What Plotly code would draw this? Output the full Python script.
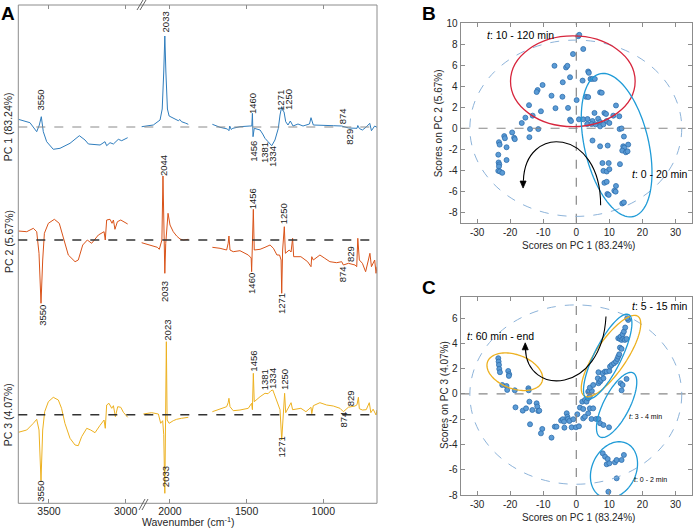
import numpy as np
import plotly.graph_objects as go

W, H = 693, 529
def px(x): return x / W
def py(y): return 1 - y / H

FONT = "Arial, 'Liberation Sans', Helvetica, sans-serif"
TXT = "#262626"
AXC = "#8c8c8c"
BLUE = "#2f7dbd"
ORANGE = "#d95319"
YELLOW = "#edb120"

# ---------------- Panel A data (loadings, arbitrary units) ----------------
pc1_left_wn = [3700, 3624, 3580, 3563, 3550, 3537, 3515, 3472, 3428, 3363, 3302, 3265, 3243, 3167, 3135, 3124, 3102, 3080, 3048, 3026, 2987]
pc1_left_val = [7.7, 4.3, -4.7, 2, 10.3, -4.7, -14.7, -22.3, -21.3, -16.3, -8.7, -13, -17, -18, -14.7, -18.7, -15.7, -17, -12.3, -13.7, -10.7]
pc1_right_wn = [2184, 2108, 2064, 2050, 2040, 2033, 2026, 2016, 2005, 1988, 1960, 1945, 1935, 1924, 1900, 1880, None,
                1723, 1673, 1625, 1615, 1610, 1600, 1590, 1543, 1478, 1466, 1462, 1458, 1450, 1412, 1395, 1380, 1360, 1336, 1315, 1293, 1282, 1271, 1262, 1256, 1245, 1230, 1215, 1197, 1165, 1132, 1090, 1080, 1065, 1022, 935, 880, 835, 780, 775, 765, 745, 720, 697, 686, 665, 650]
pc1_right_val = [0.3, 2, 7, 18, 55, 91, 55, 18, 11, 9.7, 7, 6.3, 7.5, 5.3, 4, 2.7, None,
                 2.7, -0.3, -2, -3.7, 1, -2.5, -1.3, 0.3, 1, 1, 13.7, -9.7, -1.3, -3, -7, -11.3, -14.7, -18.7, -13, -1.3, 12, 20.3, 16, 15.3, 5.3, 2, 6, 1, 3, 1, 3, 9.3, 2, 2, 1.3, 1, -1, -1.3, 1.5, -1.5, -3, 0, 3.7, -3.7, 1, -0.3]

pc2_left_wn = [3700, 3645, 3602, 3580, 3565, 3552, 3541, 3530, 3504, 3465, 3433, 3407, 3374, 3330, 3309, 3280, 3250, 3222, 3178, 3141, 3133, 3124, 3102, 3089, 3080, 3070, 3054, 3032, 3010, 2987]
pc2_left_val = [9, 8.3, 11.7, 8.3, -13.3, -63.3, -20, 6.7, 16.7, 20.7, 16.7, 3.3, -15, -21.7, -20, -5, 0, -3.3, 5, 8.3, 0, 20, 20.7, 16.7, 20, 10.7, 18.3, 20, 18.3, 16]
pc2_right_wn = [2184, 2119, 2082, 2069, 2052, 2045, 2039, 2033, 2027, 2012, 1999, 1978, 1956, 1934, 1912, 1880, None,
                1723, 1673, 1630, 1620, 1615, 1608, 1587, 1543, 1489, 1470, 1467, 1462, 1456, 1450, 1412, 1380, 1347, 1325, 1302, 1285, 1275, 1271, 1265, 1254, 1247, 1222, 1210, 1200, 1193, 1146, 1102, 1080, 1075, 1065, 1022, 990, 957, 913, 880, 869, 836, 793, 782, 775, 765, 745, 724, 706, 696, 686, 665, 656, 650]
pc2_right_val = [-2.7, -6, -7.3, -9.3, 0, 64, 10, -33.3, -3.3, 26.7, 15, 8.3, 4, 1, 0, 0.7, None,
                 -7.3, -8.3, -10, -3.3, 4, -10, -11.7, -10.7, -15, -18, -31.7, -12, 30.7, -10, -9.3, -7.3, -5, -8.3, -15, -15, -20, -53.3, -10, 13.3, -13.3, -10, -12, 1.7, -16.7, -16.7, -21.7, -26.7, -16.7, -20, -15, -18.3, -21.7, -22.7, -21.7, -25, -23.3, -25, -26.7, 1.7, -20, -23.3, -31.7, -20, -13.3, -26.7, -20, -33.3, -26.7]

pc3_left_wn = [3700, 3645, 3602, 3580, 3565, 3552, 3541, 3528, 3504, 3472, 3439, 3418, 3396, 3363, 3330, 3309, 3287, 3254, 3228, 3200, 3167, 3141, 3133, 3124, 3109, 3091, 3080, 3067, 3052, 3032, 3015, 2987]
pc3_left_val = [-17.6, -15.3, -8.6, -4.6, -15.3, -66, -15.3, 3, 13, 17.4, 14.7, 6.4, -8.6, -23.6, -30.3, -31, -22, -13.6, -15.3, -18, -10.6, -5.3, -13.6, 9.7, 11.4, 6.4, 9, -2, 8, 7.4, 2.4, -2.6]
pc3_right_wn = [2173, 2119, 2075, 2060, 2047, 2040, 2033, 2028, 2023, 2018, 2005, 1978, 1956, 1924, 1880, None,
                1723, 1673, 1630, 1620, 1615, 1608, 1587, 1543, 1489, 1467, 1462, 1456, 1450, 1412, 1380, 1360, 1341, 1329, 1315, 1293, 1282, 1271, 1262, 1252, 1245, 1222, 1210, 1200, 1146, 1113, 1080, 1075, 1065, 1022, 978, 935, 891, 869, 836, 793, 780, 771, 765, 745, 720, 700, 690, 675, 656, 650]
pc3_right_val = [0.7, 2, 0.7, -8.6, -6, -20, -78.6, -10, 73, -5.3, -8.6, -6, -4.6, -3.6, -2.6, None,
                 3, 5.4, 8, 12, 16.4, 8, 4, 4.7, 6.4, 11.4, 5, 41.4, 13, 18, 21.4, 21, 24, 24.7, 18.7, 8, 5, -25.3, 4, 21.4, 2, 9.7, 12, 5, 6.4, 3, 7.4, 1, 9, 12, 9.7, 8.7, 6.4, 3, 7.5, 8.7, 10, 17.4, 6, 4.7, 5, 12, 2, 5.5, -0.3, 4.7]

# peak labels: text, label x (wavenumber), label y (loading units)
pc1_labels = ["3550", "2033", "1460", "1456", "1381", "1334", "1271", "1250", "874", "829"]
pc1_label_x = [3555, 2027, 1458, 1451, 1386, 1334, 1276, 1223, 874, 826]
pc1_label_y = [27, 105.3, 23, -24.7, -26, -30, 27, 27, 10.3, -9.7]
pc2_labels = ["2044", "3550", "2033", "1456", "1460", "1250", "1271", "874", "829"]
pc2_label_x = [2043, 3547, 2036, 1463, 1467, 1261, 1271, 876, 826]
pc2_label_y = [74.3, -75, -51.7, 41, -43.3, 26, -63.3, -34, -14]
pc3_labels = ["2023", "3550", "2033", "1456", "1381", "1334", "1250", "1271", "874", "829"]
pc3_label_x = [2021, 3552, 2029, 1452, 1384, 1330, 1256, 1271, 874, 826]
pc3_label_y = [84.7, -77, -62, 54, 34.7, 36.4, 34.7, -32, -5.3, 16.4]

wn_ticks_left = [3500, 3000]
wn_ticks_right = [2000, 1500, 1000]

# ---------------- Panel B data (scores PC1 vs PC2) ----------------
b_pc1 = [0.6, 0.9, 2.1, -1.0, -6.6, -3.1, -2.7, 3.6, 3.8, -1.9, 1.9, 4.3, 4.9, 5.6, -4.1, -10.2, -11.7, -12.0, 7.2, 7.7,
         2.9, 3.6, -7.5, -4.2, 0.1, -14.3, 12.0, -6.3, -2.5, 5.5, 8.5, 9.0, -10.7, -13.2, -15.4, 11.2, 13.0, -1.9, -1.6, 0.8,
         2.1, 3.4, 4.9, 6.6, 7.2, 9.2, 10.0, 3.3, 4.6, 5.8, 7.2, 8.2, -16.5, -14.0, -11.5, -19.4, -21.8, -21.6, -18.8, -18.6,
         -14.2, -23.4, -23.2, -21.1, -23.6, -21.1, -23.5, -23.3, -23.4, -23.6, -23.1, -22.4, 13.1, 13.7, 14.4, 4.9, 7.2, 9.5, 14.2, 14.5,
         15.7, 13.9, 15.0, 15.5, 7.9, 9.8, 8.2, 9.2, 10.0, 13.2, 8.5, 9.2, 12.0, 11.5, 11.9, 9.4, 9.8, 13.9, 14.4]
b_pc2 = [8.77, 8.9, 7.55, 7.07, 5.95, 5.79, 5.95, 5.41, 5.28, 4.86, 4.54, 4.7, 4.7, 4.7, 4.38, 4.12, 3.64, 3.45, 3.42, 3.38,
         3.0, 2.97, 3.1, 3.0, 2.68, 2.2, 2.17, 1.91, 1.94, 1.46, 1.46, 1.36, 1.62, 1.2, 1.01, 1.2, 1.14, 0.82, 0.69, 0.85,
         0.85, 0.88, 0.69, 0.91, 0.59, 0.69, 0.5, 0.4, 0.4, 0.37, 0.18, 0.37, 0.5, -0.08, -0.08, -0.4, -0.75, -0.95, -0.91, -1.04,
         -0.85, -1.33, -1.56, -1.81, -2.52, -3.03, -3.26, -3.45, -3.64, -4.06, -4.12, -4.25, -0.08, -0.02, -0.79, -1.17, -1.72, -1.65, -1.72, -1.84,
         -1.56, -2.13, -2.29, -2.2, -3.32, -3.32, -4.06, -4.12, -3.9, -3.42, -5.2, -5.1, -5.5, -5.95, -6.04, -6.26, -6.35, -7.17, -7.07]

# ---------------- Panel C data (scores PC1 vs PC3) ----------------
c_pc1 = [-23.6, -23.5, -23.4, -23.3, -23.1, -20.6, -20.3, -20.4, -22.4, -21.1, -20.9, -18.6, -14.5, -14.4, -14.2, -18.4, -16.2, -15.2, -13.3, -12.0,
         -11.8, -11.5, -11.2, -14.0, -10.3, -10.7, -7.5, -6.5, -6.0, -4.6, -4.1, -3.7, -2.9, -2.7, -2.5, -2.1, -1.4, -3.6, -0.9, -0.1,
         0.8, 0.3, 1.1, 2.1, 1.8, 2.6, 3.1, 3.6, 4.1, 2.1, 2.6, 3.6, 4.1, 5.1, 4.6, 6.0, 6.7, 3.6, 3.9, 4.7,
         4.1, 5.1, 6.7, 7.2, 6.5, 7.5, 8.2, 6.7, 8.0, 8.7, 9.2, 10.0, 10.2, 10.7, 11.4, 12.0, 12.4, 12.7, 13.0, 13.2,
         13.7, 12.7, 13.2, 13.4, 13.7, 14.2, 14.7, 15.2, 14.0, 14.4, 14.8, 15.7, 15.4, 13.4, 14.0, 15.2, 13.7, 7.2, 8.2, 9.9,
         8.0, 8.7, 9.5, 9.2, 10.0, 11.7, 12.2, 13.7, 14.4, 12.2, 9.7]
c_pc3 = [2.83, 2.56, 2.3, 1.98, 1.72, 1.82, 1.56, 1.43, 0.71, 0.63, 0.32, 0.29, 0.45, 0.29, -0.61, -1.06, -1.32, -1.14, -1.27, -0.74,
         -1.0, -1.35, -1.32, -2.4, -2.77, -3.12, -3.46, -2.59, -2.59, -2.11, -2.0, -2.19, -1.53, -1.8, -1.98, -2.14, -2.64, -2.67, -2.0, -2.64,
         -2.56, -1.61, -1.08, -1.19, -0.61, -0.48, -0.61, -0.34, -0.21, -1.93, -1.8, -1.53, -1.14, -1.14, -1.98, -1.98, -1.98, 0.18, 0.26, 0.24,
         0.5, 0.71, 0.85, 0.98, 1.24, 1.11, 1.24, 1.72, 1.64, 1.77, 1.77, 1.82, 2.17, 2.3, 2.43, 2.56, 2.77, 2.96, 3.14, 3.67,
         3.57, 4.41, 4.36, 4.54, 4.28, 4.36, 4.28, 4.36, 4.73, 4.94, 5.26, 5.86, 6.0, 0.85, 0.71, 1.19, 0.29, -2.32, -2.46, -2.64,
         -4.7, -4.97, -5.15, -5.57, -5.49, -5.41, -5.23, -5.23, -4.83, -6.68, -7.74]

score_ticks_x = [-30, -20, -10, 0, 10, 20, 30]
b_ticks_y = [-8, -6, -4, -2, 0, 2, 4, 6, 8, 10]
c_ticks_y = [-8, -6, -4, -2, 0, 2, 4, 6]

def hy(vals):
    return [str(v) for v in vals]

# ---------------- geometry (pixels of the 693x529 page) ----------------
A_L, A_R, A_T, A_B = 18.3, 377.0, 5.0, 503.3
A_BRK = 139.2
SC_L, SC_R = 460.6, 692.0
B_T, B_B = 23.3, 222.7
C_T, C_B = 296.7, 495.0
B_RANGE_Y = [-9, 10]
C_RANGE_Y = [-8, 7.7]
SX = (SC_R - SC_L) / 70.0
SY_B = (B_B - B_T) / (B_RANGE_Y[1] - B_RANGE_Y[0])
SY_C = (C_B - C_T) / (C_RANGE_Y[1] - C_RANGE_Y[0])

fig = go.Figure()

def add_spec(lw, lv, rw, rv, yax, color):
    fig.add_trace(go.Scatter(x=lw, y=lv, xaxis="x", yaxis=yax, mode="lines",
                             line=dict(color=color, width=1), hoverinfo="skip", showlegend=False))
    fig.add_trace(go.Scatter(x=rw, y=rv, xaxis="x2", yaxis=yax, mode="lines", connectgaps=False,
                             line=dict(color=color, width=1), hoverinfo="skip", showlegend=False))

add_spec(pc1_left_wn, pc1_left_val, pc1_right_wn, pc1_right_val, "y", BLUE)
add_spec(pc2_left_wn, pc2_left_val, pc2_right_wn, pc2_right_val, "y2", ORANGE)
add_spec(pc3_left_wn, pc3_left_val, pc3_right_wn, pc3_right_val, "y3", YELLOW)
# empty traces so the frame axis (y6) exists as a subplot for the wavenumber axes
for xa in ["x", "x2"]:
    fig.add_trace(go.Scatter(x=[], y=[], xaxis=xa, yaxis="y6", mode="lines", showlegend=False, hoverinfo="skip"))

MK = dict(size=5, color="#5b9bd5", line=dict(color="#2e6fad", width=0.8))
fig.add_trace(go.Scatter(x=b_pc1, y=b_pc2, xaxis="x3", yaxis="y4", mode="markers",
                         marker=MK, showlegend=False))
fig.add_trace(go.Scatter(x=c_pc1, y=c_pc3, xaxis="x4", yaxis="y5", mode="markers",
                         marker=MK, showlegend=False))

tickfont = dict(family=FONT, size=10.5, color=TXT)
common_x_A = dict(ticks="inside", ticklen=4, tickcolor=AXC, showline=False, showgrid=False,
                  zeroline=False, mirror="ticks", anchor="y6", tickfont=tickfont, tickmode="array")
score_ax = dict(ticks="inside", ticklen=4, tickcolor=AXC, showline=True, linecolor=AXC, linewidth=1,
                mirror="allticks", showgrid=False, zeroline=False, tickfont=dict(family=FONT, size=10, color=TXT),
                tickmode="array")

fig.update_layout(
    width=W, height=H, margin=dict(l=0, r=0, t=0, b=0, autoexpand=False),
    paper_bgcolor="white", plot_bgcolor="rgba(0,0,0,0)",
    font=dict(family=FONT, color=TXT),
    xaxis=dict(domain=[px(A_L), px(A_BRK)], range=[3700, 3700 - (A_BRK - A_L) / 0.1534],
               tickvals=wn_ticks_left, ticktext=hy(wn_ticks_left), **common_x_A),
    xaxis2=dict(domain=[px(A_BRK), px(A_R)], range=[2200, 2200 - (A_R - A_BRK) / 0.1534],
                tickvals=wn_ticks_right, ticktext=hy(wn_ticks_right), **common_x_A),
    yaxis=dict(domain=[py(160), py(A_T)], range=[-33, 122], visible=False, anchor="x"),
    yaxis2=dict(domain=[py(320), py(160)], range=[-80, 80], visible=False, anchor="x"),
    yaxis3=dict(domain=[py(A_B), py(320)], range=[-88.6, 94.7], visible=False, anchor="x"),
    yaxis6=dict(domain=[py(A_B), py(A_T)], range=[0, 1], visible=False, anchor="x"),
    xaxis3=dict(domain=[px(SC_L), px(SC_R)], range=[-35, 35], anchor="y4", tickvals=score_ticks_x,
                ticktext=hy(score_ticks_x), **score_ax),
    yaxis4=dict(domain=[py(B_B), py(B_T)], range=B_RANGE_Y, anchor="x3", tickvals=b_ticks_y,
                ticktext=hy(b_ticks_y), **score_ax),
    xaxis4=dict(domain=[px(SC_L), px(SC_R)], range=[-35, 35], anchor="y5", tickvals=score_ticks_x,
                ticktext=hy(score_ticks_x), **score_ax),
    yaxis5=dict(domain=[py(C_B), py(C_T)], range=C_RANGE_Y, anchor="x4", tickvals=c_ticks_y,
                ticktext=hy(c_ticks_y), **score_ax),
)

shapes = []
# panel A frame
shapes.append(dict(type="rect", xref="paper", yref="paper", x0=px(A_L), x1=px(A_R), y0=py(A_B), y1=py(A_T),
                   line=dict(color=AXC, width=1), layer="above"))
# break marks
for (x0, y0, x1, y1) in [(137, 10, 143, 0), (140, 10, 146, 0), (139, 510, 145, 499), (142, 510, 148, 499)]:
    shapes.append(dict(type="line", xref="paper", yref="paper", x0=px(x0), y0=py(y0), x1=px(x1), y1=py(y1),
                       line=dict(color="#555", width=0.9)))
# baselines
shapes.append(dict(type="line", xref="paper", yref="y", x0=px(A_L), x1=px(A_R), y0=0, y1=0,
                   line=dict(color="#8a8a8a", width=1, dash="dash")))
for yr in ["y2", "y3"]:
    shapes.append(dict(type="line", xref="paper", yref=yr, x0=px(A_L), x1=px(A_R), y0=0, y1=0,
                       line=dict(color="#333", width=1.4, dash="dash")))
# cross lines in score plots
for xr, yr in [("x3", "y4"), ("x4", "y5")]:
    shapes.append(dict(type="line", xref=xr, yref=yr + " domain", x0=0, x1=0, y0=0, y1=1,
                       line=dict(color="#888", width=1.2, dash="dash")))
    shapes.append(dict(type="line", xref=xr + " domain", yref=yr, x0=0, x1=1, y0=0, y1=0,
                       line=dict(color="#888", width=1.2, dash="dash")))

def ellipse_path(cx, cy, a, b, phi_deg, sy, n=100):
    t = np.linspace(0, 2 * np.pi, n)
    ph = np.radians(phi_deg)
    dx = a * np.cos(ph) * np.cos(t) - b * np.sin(ph) * np.sin(t)
    dy = a * np.sin(ph) * np.cos(t) + b * np.cos(ph) * np.sin(t)
    X = cx + dx / SX
    Y = cy - dy / sy
    return "M " + " L ".join(f"{x:.3f},{y:.3f}" for x, y in zip(X, Y)) + " Z"

def arrow_head(tx, ty, sy, down=True, L=7.0, Wd=3.0):
    # filled triangle, tip at (tx, ty), pointing up or down (sizes in pixels)
    dy = (L / sy) * (1 if down else -1)
    dx = Wd / SX
    return f"M {tx:.3f},{ty:.3f} L {tx - dx:.3f},{ty + dy:.3f} L {tx + dx:.3f},{ty + dy:.3f} Z"

LB = "#1f9bd7"
# Panel B ellipses
shapes.append(dict(type="circle", xref="x3", yref="y4", x0=-32.2, x1=31.9, y0=-8.4, y1=8.4,
                   line=dict(color="#8db3d9", width=1, dash="dash")))
shapes.append(dict(type="circle", xref="x3", yref="y4", x0=-19.9, x1=17.8, y0=0.15, y1=8.8,
                   line=dict(color="#d7263d", width=1.3)))
shapes.append(dict(type="path", xref="x3", yref="y4", path=ellipse_path(12.2, -1.61, 73.3, 32, 76.8, SY_B),
                   line=dict(color=LB, width=1.3)))
shapes.append(dict(type="path", xref="x3", yref="y4", path="M 7.36,-7.33 C 7.36,0.11 -15.5,0.43 -16.0,-5.0",
                   line=dict(color="black", width=1.1)))
shapes.append(dict(type="path", xref="x3", yref="y4", path=arrow_head(-16.1, -5.7, SY_B, down=True),
                   line=dict(color="black", width=0.8), fillcolor="black"))
# Panel C ellipses
shapes.append(dict(type="circle", xref="x4", yref="y5", x0=-32.2, x1=31.9, y0=-7.15, y1=7.05,
                   line=dict(color="#8db3d9", width=1, dash="dash")))
shapes.append(dict(type="path", xref="x4", yref="y5", path=ellipse_path(-18.6, 1.76, 29, 17, 20, SY_C),
                   line=dict(color=YELLOW, width=1.3)))
shapes.append(dict(type="path", xref="x4", yref="y5", path=ellipse_path(10.5, 3.0, 48, 15.5, -56, SY_C),
                   line=dict(color=YELLOW, width=1.3)))
shapes.append(dict(type="path", xref="x4", yref="y5", path=ellipse_path(9.5, 2.95, 47, 13.5, -63.5, SY_C),
                   line=dict(color=LB, width=1.3)))
shapes.append(dict(type="path", xref="x4", yref="y5", path=ellipse_path(12.2, -0.87, 36, 13, -62.7, SY_C),
                   line=dict(color=LB, width=1.3)))
shapes.append(dict(type="path", xref="x4", yref="y5", path=ellipse_path(11.4, -6.02, 29.5, 22, -64.6, SY_C),
                   line=dict(color=LB, width=1.3)))
shapes.append(dict(type="path", xref="x4", yref="y5", path="M 8.98,6.13 C 7.7,-0.08 -15.0,-0.21 -15.4,3.6",
                   line=dict(color="black", width=1.1)))
shapes.append(dict(type="path", xref="x4", yref="y5", path=arrow_head(-15.45, 4.05, SY_C, down=False),
                   line=dict(color="black", width=0.8), fillcolor="black"))
fig.update_layout(shapes=shapes)

ann = []
def peak_labels(texts, xs, ys, yref):
    for t, x, y in zip(texts, xs, ys):
        ann.append(dict(text=t, x=x, y=y, xref="x" if x > 2500 else "x2", yref=yref, showarrow=False,
                        textangle=-90, xanchor="center", yanchor="middle",
                        font=dict(family=FONT, size=9.5, color="#222")))
peak_labels(pc1_labels, pc1_label_x, pc1_label_y, "y")
peak_labels(pc2_labels, pc2_label_x, pc2_label_y, "y2")
peak_labels(pc3_labels, pc3_label_x, pc3_label_y, "y3")

def ptext(t, x, y, size=10.5, angle=0, bold=False, xanchor="center"):
    ann.append(dict(text=f"<b>{t}</b>" if bold else t, x=px(x), y=py(y), xref="paper", yref="paper",
                    showarrow=False, textangle=angle, xanchor=xanchor, yanchor="middle",
                    font=dict(family=FONT, size=size, color="black" if bold else TXT)))

ptext("PC 1 (83.24%)", 8.3, 127, angle=-90)
ptext("PC 2 (5.67%)", 8.3, 241.7, angle=-90)
ptext("PC 3 (4.07%)", 8.3, 415, angle=-90)
ptext("Wavenumber (cm<sup>-1</sup>)", 188, 521)
ptext("Scores on PC 1 (83.24%)", 578, 245.5, size=10)
ptext("Scores on PC 2 (5.67%)", 438.3, 123, size=10, angle=-90)
ptext("Scores on PC 1 (83.24%)", 578, 517, size=10)
ptext("Scores on PC 3 (4.07%)", 444, 395, size=10, angle=-90)
ptext("A", 8, 13, size=19, bold=True)
ptext("B", 429, 13, size=19, bold=True)
ptext("C", 429, 287, size=19, bold=True)

def dtext(t, x, y, xr, yr, size=10.5):
    ann.append(dict(text=t, x=x, y=y, xref=xr, yref=yr, showarrow=False, xanchor="left", yanchor="middle",
                    font=dict(family=FONT, size=size, color="black")))
dtext("<i>t</i>: 10 - 120 min", -27.5, 8.88, "x3", "y4")
dtext("<i>t</i>: 0 - 20 min", 16.2, -4.36, "x3", "y4")
dtext("<i>t</i>: 5 - 15 min", 16.2, 6.96, "x4", "y5")
dtext("<i>t</i>: 60 min - end", -33.7, 4.59, "x4", "y5")
dtext("<i>t</i>: 3 - 4 min", 15.2, -1.75, "x4", "y5", size=7)
dtext("<i>t</i>: 0 - 2 min", 16.75, -6.81, "x4", "y5", size=7)
fig.update_layout(annotations=ann)

fig.write_html("out.html", config={"displayModeBar": False},
               post_script="document.body.style.margin='0';document.body.style.padding='0';"
                           "document.body.style.overflow='hidden';")
